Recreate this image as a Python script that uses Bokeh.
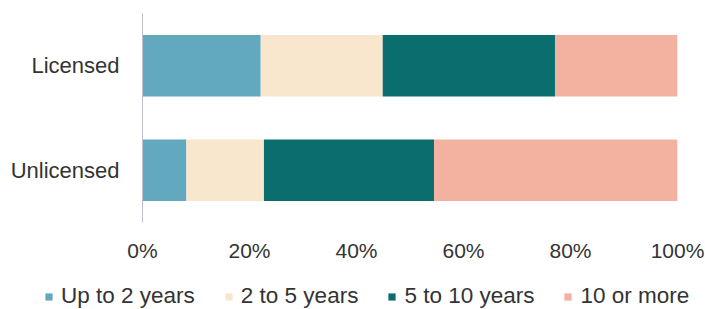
from bokeh.plotting import figure
from bokeh.models import (ColumnDataSource, FactorRange, Range1d, FixedTicker,
                          Legend, LegendItem)
from bokeh.layouts import column
from bokeh.embed import file_html
from bokeh.resources import INLINE

# ---- data ----
categories = ["Unlicensed", "Licensed"]          # bottom to top
series_names = ["Up to 2 years", "2 to 5 years", "5 to 10 years", "10 or more"]
up_to_2 = [8.2, 22.1]
two_to_5 = [14.5, 22.8]
five_to_10 = [31.8, 32.2]
ten_or_more = [45.5, 22.9]
tick_values = [0, 20, 40, 60, 80, 100]
tick_labels = ["0%", "20%", "40%", "60%", "80%", "100%"]

colors = ["#62A9BF", "#F8E6CD", "#0B6E6E", "#F3B19F"]
keys = ["up2", "two5", "five10", "ten"]

source = ColumnDataSource(dict(cat=categories, up2=up_to_2, two5=two_to_5,
                               five10=five_to_10, ten=ten_or_more))

FONT = "Liberation Sans"
TXT = "#333333"

# ---- main chart ----
p = figure(width=705, height=270, output_backend="svg", toolbar_location=None,
           y_range=FactorRange(factors=categories), x_range=Range1d(0, 100),
           min_border_left=142, min_border_right=28, min_border_top=13,
           min_border_bottom=48)
p.frame_align = False

rs = p.hbar_stack(keys, y="cat", height=0.59, color=colors, line_color=None,
                  source=source)

p.outline_line_color = None
p.xgrid.grid_line_color = None
p.ygrid.grid_line_color = None

p.xaxis.ticker = FixedTicker(ticks=tick_values)
p.xaxis.major_label_overrides = {v: l for v, l in zip(tick_values, tick_labels)}
p.xaxis.axis_line_color = None
p.xaxis.major_tick_line_color = None
p.xaxis.minor_tick_line_color = None
p.xaxis.major_label_standoff = 10
p.xaxis.major_label_text_font = FONT
p.xaxis.major_label_text_font_size = "21px"
p.xaxis.major_label_text_color = TXT

p.yaxis.axis_line_color = "#BDBDCB"
p.yaxis.axis_line_width = 1
p.yaxis.major_tick_line_color = None
p.yaxis.minor_tick_line_color = None
p.yaxis.major_label_standoff = 17
p.yaxis.major_label_text_font = FONT
p.yaxis.major_label_text_font_size = "22px"
p.yaxis.major_label_text_color = TXT

# ---- legend strip (zero-size proxy glyphs carry the swatch colours) ----
q = figure(width=705, height=39, output_backend="svg", toolbar_location=None,
           x_axis_type=None, y_axis_type=None, x_range=Range1d(0, 1), y_range=Range1d(0, 1),
           min_border_left=0, min_border_right=0, min_border_top=0, min_border_bottom=0)
q.frame_align = False
q.outline_line_color = None
q.xgrid.grid_line_color = None
q.ygrid.grid_line_color = None
swatches = [q.hbar(y=[0], left=[0], right=[0], height=0, fill_color=c, line_color=None)
            for c in colors]

lg = Legend(items=[LegendItem(label=n, renderers=[r]) for n, r in zip(series_names, swatches)])
lg.orientation = "horizontal"
lg.location = (44, 0)
lg.label_text_font = FONT
lg.label_text_font_size = "22.5px"
lg.label_text_color = TXT
lg.label_height = 24
lg.glyph_width = 9
lg.glyph_height = 9
lg.label_standoff = 8
lg.spacing = 29
lg.padding = 0
lg.margin = 0
lg.border_line_color = None
lg.background_fill_alpha = 0
q.add_layout(lg)

layout = column(p, q, spacing=0)
open("out.html", "w").write(file_html(layout, INLINE))
